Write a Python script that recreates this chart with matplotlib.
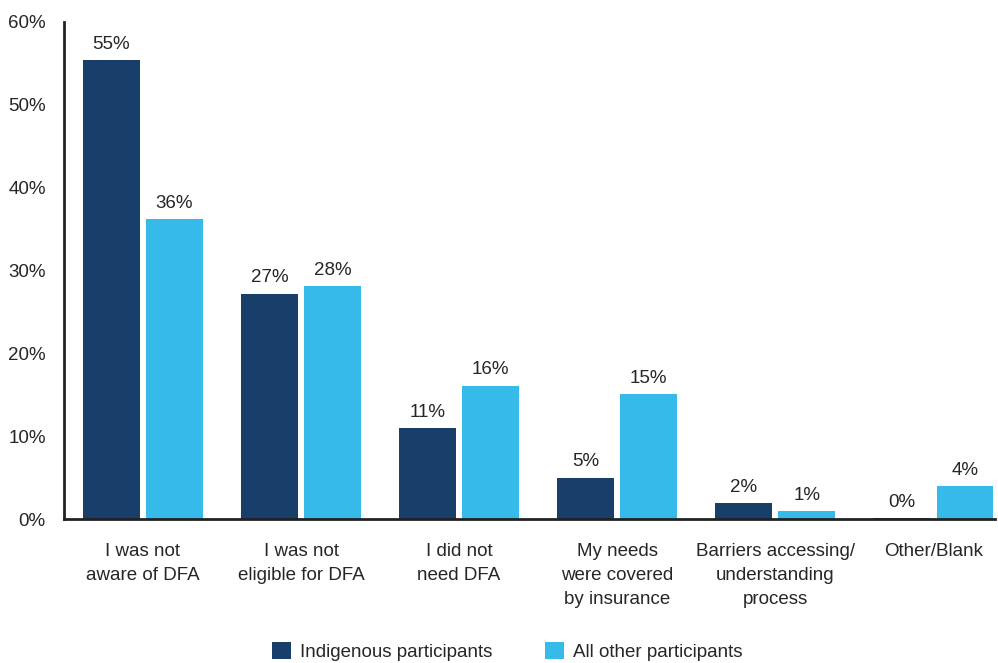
import matplotlib.pyplot as plt
import numpy as np

plt.rcParams['font.family'] = ['Liberation Sans', 'DejaVu Sans']

categories = ["I was not\naware of DFA", "I was not\neligible for DFA", "I did not\nneed DFA",
              "My needs\nwere covered\nby insurance", "Barriers accessing/\nunderstanding\nprocess",
              "Other/Blank"]
indigenous = [55.4, 27.2, 11.0, 5.0, 1.9, 0.1]
all_other = [36.2, 28.1, 16.1, 15.1, 0.95, 4.0]
indigenous_labels = ["55%", "27%", "11%", "5%", "2%", "0%"]
other_labels = ["36%", "28%", "16%", "15%", "1%", "4%"]

dark = "#173F69"
light = "#35BAEA"
txt = "#262626"

fig = plt.figure(figsize=(9.98, 6.63), dpi=100)
ax = fig.add_axes([0.064, 0.217, 0.933, 0.75])

x = np.arange(len(categories))
w = 0.36
off = 0.2
b1 = ax.bar(x - off, indigenous, w, color=dark, label="Indigenous participants")
b2 = ax.bar(x + off, all_other, w, color=light, label="All other participants")

for bars, labs in ((b1, indigenous_labels), (b2, other_labels)):
    for b, l in zip(bars, labs):
        ax.text(b.get_x() + b.get_width() / 2, b.get_height() + 0.9, l,
                ha="center", va="bottom", fontsize=13.5, color=txt)

ax.set_xlim(-0.5, 5.39)
ax.set_ylim(0, 60)
ax.set_yticks(range(0, 61, 10))
ax.set_yticklabels([f"{v}%" for v in range(0, 61, 10)], fontsize=13.5, color=txt)
ax.set_xticks(x)
ax.set_xticklabels(categories, fontsize=13.5, color=txt, linespacing=1.55, va="top")
ax.tick_params(axis="x", length=0, pad=17)
ax.tick_params(axis="y", length=0, pad=13)
for s in ("top", "right"):
    ax.spines[s].set_visible(False)
ax.spines["left"].set_linewidth(2)
ax.spines["bottom"].set_linewidth(2)
ax.spines["left"].set_color("#222222")
ax.spines["bottom"].set_color("#222222")

ax.legend(loc="upper center", bbox_to_anchor=(0.476, -0.213), ncol=2, frameon=False,
          fontsize=13.5, handlelength=1.0, handleheight=1.0, columnspacing=2.8,
          handletextpad=0.5, labelcolor=txt)

fig.savefig("out.png", dpi=100)
